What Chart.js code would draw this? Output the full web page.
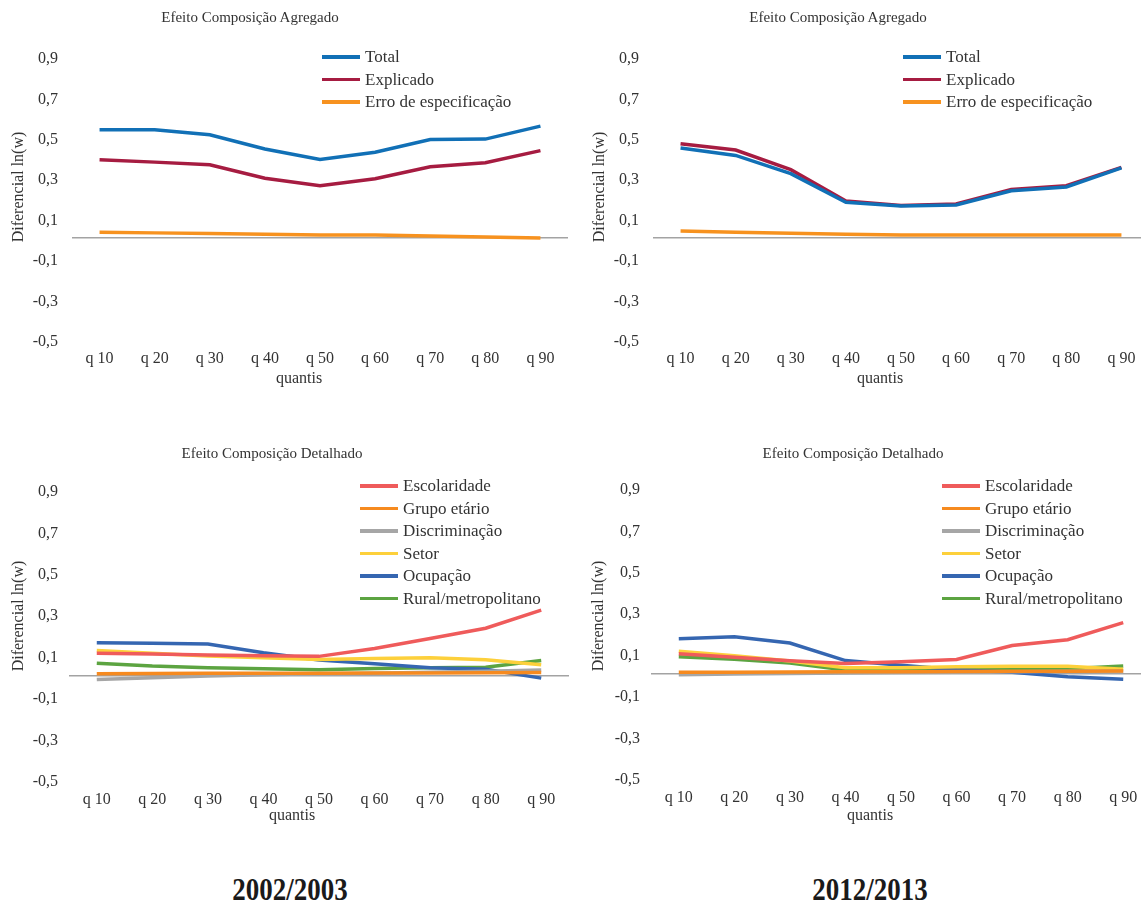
<!DOCTYPE html>
<html>
<head>
<meta charset="utf-8">
<script src="https://cdn.jsdelivr.net/npm/chart.js@4"></script>
<style>
  html, body { margin: 0; padding: 0; background: #fff; overflow: hidden; }
  body { width: 1141px; height: 906px; position: relative; font-family: 'Liberation Serif', 'Times New Roman', serif; color: #333; }
  canvas { position: absolute; }
  .txt { position: absolute; white-space: nowrap; transform: translate(-50%, -50%); }
  .title { font-size: 15px; }
  .axis { font-size: 16px; }
  .ytitle { font-size: 16px; transform: translate(-50%, -50%) rotate(-90deg); }
  .year { font-size: 31px; font-weight: bold; color: #1a1a1a; transform: translate(-50%, -50%) scaleX(0.87); }
  .legend { position: absolute; font-size: 17px; }
  .legend div { height: 22.5px; line-height: 22.5px; white-space: nowrap; }
  .legend span.sw { display: inline-block; width: 38px; height: 3.5px; vertical-align: middle; margin-right: 5px; position: relative; top: -1px; }
</style>
</head>
<body>
<canvas id="tl" width="580" height="400" style="left:0;top:0;width:580px;height:400px"></canvas>
<canvas id="tr" width="580" height="400" style="left:581px;top:0;width:580px;height:400px"></canvas>
<canvas id="bl" width="580" height="400" style="left:0;top:430px;width:580px;height:400px"></canvas>
<canvas id="br" width="580" height="400" style="left:582px;top:428px;width:580px;height:400px"></canvas>

<div class="txt title" style="left:250px;top:17px">Efeito Composição Agregado</div>
<div class="txt title" style="left:838px;top:17px">Efeito Composição Agregado</div>
<div class="txt title" style="left:272px;top:453px">Efeito Composição Detalhado</div>
<div class="txt title" style="left:853px;top:453px">Efeito Composição Detalhado</div>

<div class="txt axis" style="left:299px;top:378px">quantis</div>
<div class="txt axis" style="left:880px;top:378px">quantis</div>
<div class="txt axis" style="left:292px;top:815px">quantis</div>
<div class="txt axis" style="left:870px;top:815px">quantis</div>

<div class="txt ytitle" style="left:18px;top:187px">Diferencial ln(w)</div>
<div class="txt ytitle" style="left:599px;top:187px">Diferencial ln(w)</div>
<div class="txt ytitle" style="left:18px;top:616px">Diferencial ln(w)</div>
<div class="txt ytitle" style="left:598px;top:616px">Diferencial ln(w)</div>

<div class="txt year" style="left:290px;top:890px">2002/2003</div>
<div class="txt year" style="left:870px;top:890px">2012/2013</div>

<div class="legend" id="lg-tl" style="left:322px;top:46px"></div>
<div class="legend" id="lg-tr" style="left:903px;top:46px"></div>
<div class="legend" id="lg-bl" style="left:360px;top:475px"></div>
<div class="legend" id="lg-br" style="left:942px;top:475px"></div>

<script>
const quantis = ['q 10', 'q 20', 'q 30', 'q 40', 'q 50', 'q 60', 'q 70', 'q 80', 'q 90'];

// efeito composicao agregado
const total0203 = [0.535, 0.535, 0.51, 0.44, 0.388, 0.424, 0.487, 0.489, 0.553];
const expl0203  = [0.387, 0.375, 0.362, 0.295, 0.258, 0.293, 0.352, 0.372, 0.432];
const erro0203  = [0.028, 0.025, 0.022, 0.018, 0.015, 0.015, 0.01, 0.005, 0.0];

const total1213 = [0.445, 0.408, 0.318, 0.176, 0.158, 0.163, 0.233, 0.252, 0.347];
const expl1213  = [0.466, 0.435, 0.338, 0.183, 0.161, 0.168, 0.24, 0.258, 0.349];
const erro1213  = [0.034, 0.028, 0.023, 0.018, 0.015, 0.015, 0.015, 0.015, 0.014];

// efeito composicao detalhado
const esc0203   = [0.107, 0.104, 0.099, 0.095, 0.092, 0.13, 0.178, 0.228, 0.315];
const grupo0203 = [0.008, 0.009, 0.01, 0.011, 0.011, 0.012, 0.012, 0.013, 0.014];
const disc0203  = [-0.02, -0.011, -0.003, 0.003, 0.008, 0.011, 0.015, 0.02, 0.026];
const setor0203 = [0.12, 0.107, 0.094, 0.085, 0.077, 0.082, 0.085, 0.076, 0.052];
const ocup0203  = [0.158, 0.155, 0.152, 0.11, 0.075, 0.056, 0.037, 0.03, -0.013];
const rural0203 = [0.059, 0.045, 0.037, 0.032, 0.028, 0.033, 0.037, 0.04, 0.072];

const esc1213   = [0.095, 0.078, 0.061, 0.048, 0.056, 0.067, 0.135, 0.163, 0.245];
const grupo1213 = [0.006, 0.006, 0.007, 0.008, 0.008, 0.009, 0.01, 0.011, 0.012];
const disc1213  = [-0.006, -0.003, 0.0, 0.002, 0.004, 0.006, 0.008, 0.01, 0.012];
const setor1213 = [0.107, 0.085, 0.06, 0.028, 0.028, 0.032, 0.035, 0.035, 0.02];
const ocup1213  = [0.168, 0.177, 0.147, 0.062, 0.04, 0.018, 0.006, -0.016, -0.028];
const rural1213 = [0.08, 0.068, 0.05, 0.016, 0.016, 0.019, 0.021, 0.023, 0.036];

const yMin = -0.5, yMax = 0.9, yStep = 0.2;

const aggNames = ['Total', 'Explicado', 'Erro de especificação'];
const aggColors = ['#1170b6', '#a61c41', '#f7921f'];
const detNames = ['Escolaridade', 'Grupo etário', 'Discriminação', 'Setor', 'Ocupação', 'Rural/metropolitano'];
const detColors = ['#ef5b5b', '#f68a1f', '#a6a6a6', '#fdd03b', '#3566b1', '#5ca441'];

const font = { family: "'Liberation Serif', 'Times New Roman', serif", size: 16 };

function makeSets(names, colors, series) {
  return series.map((data, i) => ({
    label: names[i],
    data: data,
    borderColor: colors[i],
    backgroundColor: colors[i],
    borderWidth: 3.5,
    pointRadius: 0,
    tension: 0,
    fill: false
  }));
}

function makeLegend(id, sets) {
  const box = document.getElementById(id);
  sets.forEach(s => {
    const row = document.createElement('div');
    row.innerHTML = '<span class="sw" style="background:' + s.borderColor + '"></span>' + s.label;
    box.appendChild(row);
  });
}

function makeChart(id, sets, p) {
  new Chart(document.getElementById(id), {
    type: 'line',
    data: { labels: quantis, datasets: sets },
    options: {
      responsive: false,
      animation: false,
      layout: { padding: { top: p.top, right: p.right, left: 0, bottom: 0 } },
      plugins: { legend: { display: false }, title: { display: false }, tooltip: { enabled: false } },
      scales: {
        x: {
          offset: true,
          grid: { display: false },
          border: { display: false },
          ticks: { color: '#333', font: font, padding: p.xpad, maxRotation: 0 },
          afterFit: s => { s.height = p.xh; }
        },
        y: {
          min: yMin,
          max: yMax,
          border: { display: false },
          grid: {
            drawTicks: false,
            lineWidth: 1.5,
            color: c => (c.tick && Math.abs(c.tick.value) < 1e-9) ? '#a3a3a3' : 'rgba(0,0,0,0)'
          },
          ticks: {
            stepSize: yStep,
            color: '#333',
            font: font,
            padding: p.ypad,
            labelOffset: p.loff,
            callback: v => Math.abs(v) < 1e-9 ? '' : v.toFixed(1).replace('.', ',')
          },
          afterBuildTicks: s => {
            s.ticks.push({ value: 0 });
            s.ticks.sort((a, b) => a.value - b.value);
          },
          afterFit: s => { s.width = p.yw; }
        }
      }
    }
  });
}

const setsTL = makeSets(aggNames, aggColors, [total0203, expl0203, erro0203]);
const setsTR = makeSets(aggNames, aggColors, [total1213, expl1213, erro1213]);
const setsBL = makeSets(detNames, detColors, [esc0203, grupo0203, disc0203, setor0203, ocup0203, rural0203]);
const setsBR = makeSets(detNames, detColors, [esc1213, grupo1213, disc1213, setor1213, ocup1213, rural1213]);

const topP = { top: 56, right: 12, xh: 61, yw: 72, xpad: 2, ypad: 14, loff: 3 };
const botP = { top: 59, right: 11, xh: 51, yw: 69, xpad: 3, ypad: 11, loff: 3 };

makeChart('tl', setsTL, topP);
makeChart('tr', setsTR, topP);
makeChart('bl', setsBL, botP);
makeChart('br', setsBR, botP);

makeLegend('lg-tl', setsTL);
makeLegend('lg-tr', setsTR);
makeLegend('lg-bl', setsBL);
makeLegend('lg-br', setsBR);
</script>
</body>
</html>
